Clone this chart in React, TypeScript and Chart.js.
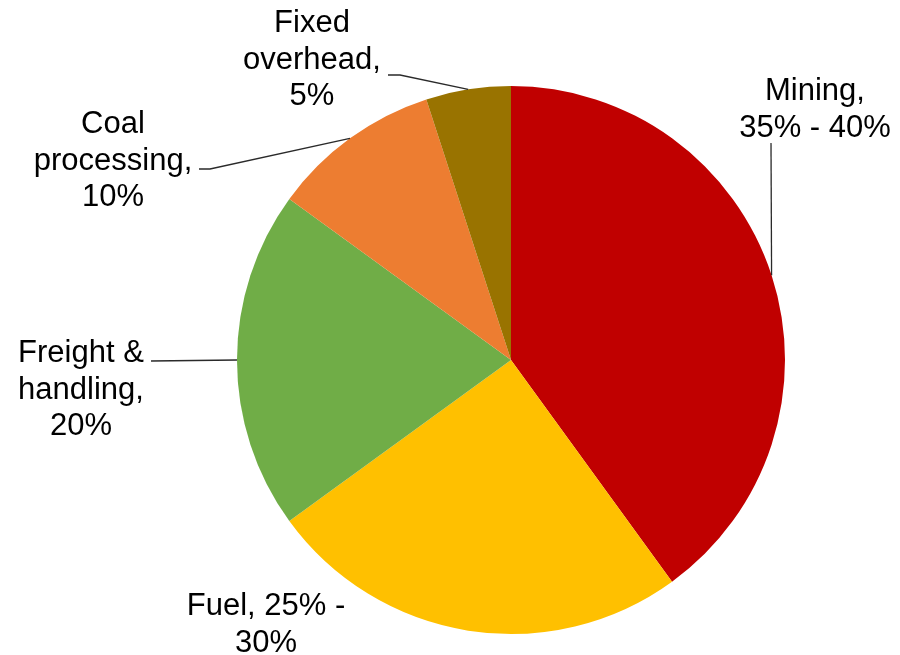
import React, { useEffect, useRef } from "react";
import { Chart, registerables } from "chart.js";

Chart.register(...registerables);

const categories = ["Mining", "Fuel", "Freight & handling", "Coal processing", "Fixed overhead"];
const values = [40, 25, 20, 10, 5];
const labelLines = [
  ["Mining,", "35% - 40%"],
  ["Fuel, 25% -", "30%"],
  ["Freight &", "handling,", "20%"],
  ["Coal", "processing,", "10%"],
  ["Fixed", "overhead,", "5%"],
];
const colors = ["#C00000", "#FFC000", "#70AD47", "#ED7D31", "#997300"];

// label placement (layout only)
const labelLayout = [
  { cx: 815, y0: 100, leader: [[771, 143]] },
  { cx: 266, y0: 615, leader: null },
  { cx: 81, y0: 362, leader: [[151, 361]] },
  { cx: 113, y0: 133, leader: [[199, 169], [210, 169]] },
  { cx: 312, y0: 32, leader: [[388, 75], [400, 75]] },
];

const labelPlugin = {
  id: "pieLabels",
  afterDatasetsDraw(chart: any) {
    const ctx = chart.ctx;
    const meta = chart.getDatasetMeta(0);
    ctx.save();
    meta.data.forEach((arc: any, i: number) => {
      const lay = labelLayout[i];
      const { x, y, startAngle, endAngle, outerRadius } = arc.getProps(
        ["x", "y", "startAngle", "endAngle", "outerRadius"],
        true
      );
      const mid = (startAngle + endAngle) / 2;
      const ex = x + Math.cos(mid) * outerRadius;
      const ey = y + Math.sin(mid) * outerRadius;
      if (lay.leader) {
        ctx.beginPath();
        ctx.strokeStyle = "#2a2a2a";
        ctx.lineWidth = 1.3;
        ctx.moveTo(lay.leader[0][0], lay.leader[0][1]);
        for (let k = 1; k < lay.leader.length; k++) ctx.lineTo(lay.leader[k][0], lay.leader[k][1]);
        ctx.lineTo(ex, ey);
        ctx.stroke();
      }
      ctx.fillStyle = "#000000";
      ctx.font = '31px "Liberation Sans", Arial, sans-serif';
      ctx.textAlign = "center";
      ctx.textBaseline = "alphabetic";
      labelLines[i].forEach((t, j) => {
        ctx.fillText(t, lay.cx, lay.y0 + j * 36.5);
      });
    });
    ctx.restore();
  },
};

export default function App() {
  const ref = useRef<HTMLCanvasElement>(null);
  useEffect(() => {
    if (!ref.current) return;
    const chart = new Chart(ref.current, {
      type: "pie",
      data: {
        labels: categories,
        datasets: [
          {
            data: values,
            backgroundColor: colors,
            borderWidth: 0,
          },
        ],
      },
      options: {
        responsive: false,
        animation: false,
        layout: { padding: { left: 237, right: 115, top: 86, bottom: 21 } },
        plugins: {
          legend: { display: false },
          tooltip: { enabled: false },
        },
      },
      plugins: [labelPlugin],
    });
    return () => chart.destroy();
  }, []);
  return (
    <div style={{ position: "fixed", left: 0, top: 0, width: 900, height: 655, background: "#fff" }}>
      <canvas ref={ref} width={900} height={655} style={{ width: 900, height: 655, display: "block" }} />
    </div>
  );
}
